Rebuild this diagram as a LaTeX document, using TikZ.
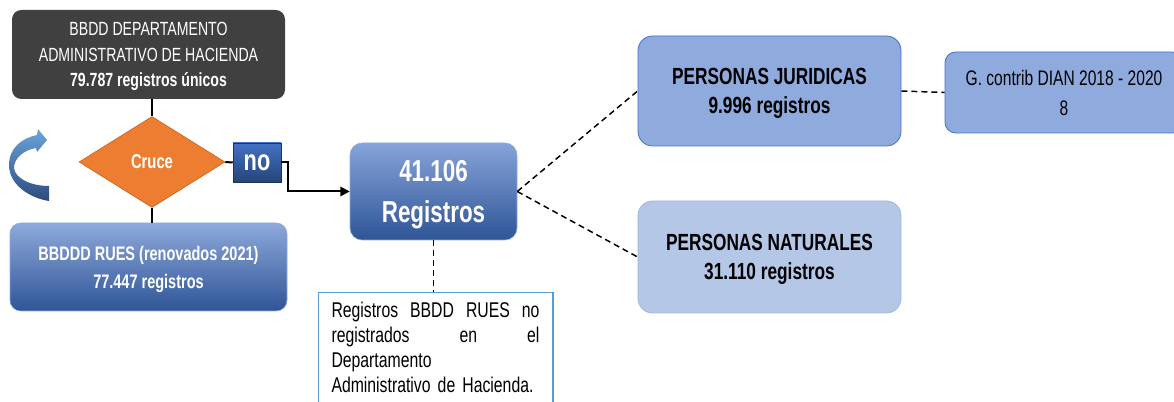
\documentclass[tikz,border=0pt]{standalone}
\usepackage{fontspec}
\setmainfont{Liberation Sans}[FakeStretch=0.74]
\usetikzlibrary{shapes.geometric,arrows.meta}
\usepackage{xcolor}

\definecolor{hacgray}{HTML}{404040}
\definecolor{cruceorange}{HTML}{ED7D31}
\definecolor{cruceedge}{HTML}{C55A11}
\definecolor{bluetop}{HTML}{8EA9DB}
\definecolor{bluebot}{HTML}{2F5597}
\definecolor{juridica}{HTML}{8FAADC}
\definecolor{natural}{HTML}{B4C7E7}
\definecolor{boxedge}{HTML}{4472C4}
\definecolor{noteedge}{HTML}{5B9BD5}

\tikzset{
  base/.style={align=center, inner sep=0pt, text depth=0pt},
  dbbox/.style={base, rounded corners=7pt, fill=hacgray, text=white,
    minimum width=204.75pt, minimum height=66.75pt,
    font=\fontsize{14.3pt}{19pt}\selectfont},
  ruesbox/.style={base, rounded corners=8pt, top color=bluetop, bottom color=bluebot,
    draw=bluetop, text=white, minimum width=207.75pt, minimum height=66pt,
    font=\fontsize{14.7pt}{21pt}\selectfont\bfseries},
  crucebox/.style={base, diamond, aspect=1.6, fill=cruceorange, draw=cruceedge,
    text=white, minimum width=109.5pt, minimum height=68.25pt,
    font=\fontsize{15pt}{17pt}\selectfont\bfseries},
  nobox/.style={base, top color=boxedge, bottom color=bluebot!80!black, draw=bluebot!60!black,
    text=white, minimum width=36pt, minimum height=29.25pt,
    font=\fontsize{22pt}{24pt}\selectfont\bfseries},
  totalbox/.style={base, rounded corners=9pt, top color=bluetop!90!boxedge, bottom color=bluebot,
    draw=bluetop, text=white, minimum width=125.25pt, minimum height=72.75pt,
    font=\fontsize{22.7pt}{31pt}\selectfont\bfseries},
  tipobox/.style={base, rounded corners=11pt, draw=boxedge, line width=0.6pt,
    minimum width=197.25pt, font=\fontsize{17.5pt}{22pt}\selectfont\bfseries},
  dianbox/.style={base, rounded corners=8pt, fill=juridica, draw=boxedge, line width=0.6pt,
    minimum width=178.5pt, minimum height=60.75pt,
    font=\fontsize{15.8pt}{22.5pt}\selectfont},
  notebox/.style={draw=noteedge, line width=0.8pt, fill=white, anchor=north,
    text width=156pt, inner xsep=10.1pt, inner ysep=7pt, text depth=80pt, align=left,
    font=\fontsize{16pt}{18.75pt}\selectfont},
  conn/.style={line width=1.5pt},
  dashconn/.style={line width=1.1pt, dash pattern=on 4.5pt off 3pt}
}

\begin{document}
\begin{tikzpicture}[x=0.75pt, y=-0.75pt]
  \useasboundingbox (0,0) rectangle (1174,402);
  \clip (0,0) rectangle (1174,402);

  % left column
  \node[dbbox] (hacienda) at (148.5,54.5)
    {BBDD DEPARTAMENTO\\ADMINISTRATIVO DE HACIENDA\\{\bfseries 79.787 registros únicos}};
  \node[crucebox] (cruce) at (152,162) {Cruce};
  \node[ruesbox] (rues) at (148.5,267) {BBDDD RUES (renovados 2021)\\77.447 registros};
  \draw[conn] (hacienda.south -| cruce.north) -- (cruce.north);
  \draw[conn] (cruce.south) -- (cruce.south |- rues.north);

  % curved arrow
  \shade[top color=noteedge!90!white, bottom color=boxedge!65!black]
    (49,201) .. controls (30,198) and (9,185) .. (9,165)
    .. controls (9,148) and (22,138) .. (37,135) -- (38,129) -- (47,140)
    -- (37,152) -- (36,148) .. controls (24,150) and (14,158) .. (14,168)
    .. controls (15,178) and (30,186) .. (49,186) -- cycle;

  % no branch
  \node[nobox] (no) at (257,162.5) {no};
  \node[totalbox] (total) at (433.5,191.5) {41.106\\Registros};
  \draw[conn] (cruce.east) -- (no.west);
  \draw[conn, -{Triangle[length=7pt,width=7pt]}] (no.east) -- ++(7,0) |- (total.west);

  \node[notebox] (nota) at (435.5,292)
    {Registros\hfill BBDD\hfill RUES\hfill no\\
     registrados\hfill en\hfill el\\
     Departamento\\
     Administrativo de Hacienda.};
  \draw[dashconn] (total.south) -- (total.south |- nota.north);

  % right side
  \node[tipobox, fill=juridica, minimum height=82.5pt] (juridicas) at (769.5,91)
    {PERSONAS JURIDICAS\\9.996 registros};
  \node[tipobox, fill=natural, draw=natural!80!boxedge, minimum height=84pt] (naturales) at (769.5,257)
    {PERSONAS NATURALES\\31.110 registros};
  \node[dianbox] (dian) at (1064,92.5) {G. contrib DIAN 2018 - 2020\\8};

  \draw[dashconn] (total.east) -- (juridicas.west);
  \draw[dashconn] (total.east) -- (naturales.west);
  \draw[dashconn] (juridicas.east) -- (dian.west);
\end{tikzpicture}
\end{document}
